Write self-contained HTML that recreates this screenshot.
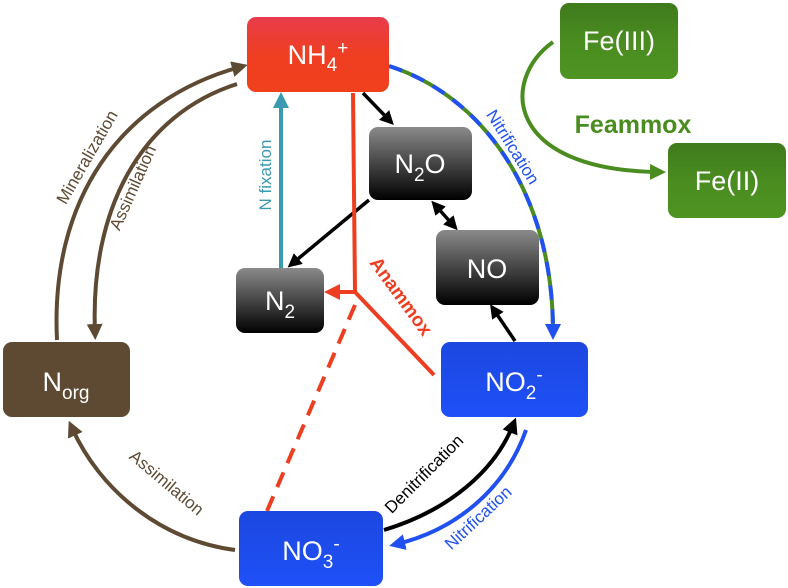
<!DOCTYPE html>
<html><head><meta charset="utf-8"><style>
html,body{margin:0;padding:0;background:#fff;}
svg{display:block;font-family:"Liberation Sans",sans-serif;}
</style></head><body>
<svg width="788" height="588" viewBox="0 0 788 588" xmlns="http://www.w3.org/2000/svg">
<defs>
<linearGradient id="red" x1="0" y1="0" x2="0" y2="1"><stop offset="0" stop-color="#e83c4c"/><stop offset="0.5" stop-color="#ef3e22"/><stop offset="1" stop-color="#f0401c"/></linearGradient>
<linearGradient id="blk" x1="0" y1="0" x2="0" y2="1"><stop offset="0" stop-color="#8a8a8a"/><stop offset="1" stop-color="#000"/></linearGradient>
<linearGradient id="blu" x1="0" y1="0" x2="0" y2="1"><stop offset="0" stop-color="#1c48e0"/><stop offset="1" stop-color="#1f50f8"/></linearGradient>
<linearGradient id="grn" x1="0" y1="0" x2="0" y2="1"><stop offset="0" stop-color="#3f7a1c"/><stop offset="0.5" stop-color="#4a8c20"/><stop offset="1" stop-color="#4e9422"/></linearGradient>
<marker id="aBr" markerWidth="4" markerHeight="4" refX="2" refY="2" orient="auto" markerUnits="strokeWidth"><path d="M0,0 L4,2 L0,4 Z" fill="#5e4a33"/></marker>
<marker id="aBk" markerWidth="4" markerHeight="4" refX="2" refY="2" orient="auto" markerUnits="strokeWidth"><path d="M0,0 L4,2 L0,4 Z" fill="#000"/></marker>
<marker id="aBkS" markerWidth="4" markerHeight="4" refX="2" refY="2" orient="auto-start-reverse" markerUnits="strokeWidth"><path d="M0,0 L4,2 L0,4 Z" fill="#000"/></marker>
<marker id="aBl" markerWidth="4" markerHeight="4" refX="2" refY="2" orient="auto" markerUnits="strokeWidth"><path d="M0,0 L4,2 L0,4 Z" fill="#2050f0"/></marker>
<marker id="aTl" markerWidth="4" markerHeight="4" refX="2" refY="2" orient="auto" markerUnits="strokeWidth"><path d="M0,0 L4,2 L0,4 Z" fill="#3a9ab0"/></marker>
<marker id="aRd" markerWidth="4" markerHeight="4" refX="2" refY="2" orient="auto" markerUnits="strokeWidth"><path d="M0,0 L4,2 L0,4 Z" fill="#ee3e22"/></marker>
<marker id="aGr" markerWidth="4" markerHeight="4" refX="2" refY="2" orient="auto" markerUnits="strokeWidth"><path d="M0,0 L4,2 L0,4 Z" fill="#4a8c20"/></marker>
</defs>

<path d="M57,340 C50,200 120,100 240,67" stroke="#5e4a33" stroke-width="4" fill="none" marker-end="url(#aBr)"/>
<path d="M237,84 C140,115 90,210 95,332" stroke="#5e4a33" stroke-width="4" fill="none" marker-end="url(#aBr)"/>
<path d="M235,550 C160,540 100,490 72,428" stroke="#5e4a33" stroke-width="4" fill="none" marker-end="url(#aBr)"/>

<path d="M281,268 L281,100" stroke="#3a9ab0" stroke-width="4" fill="none" marker-end="url(#aTl)"/>

<path d="M363,93 L389,120" stroke="#000" stroke-width="3.5" fill="none" marker-end="url(#aBk)"/>
<path d="M369,200 L293,263" stroke="#000" stroke-width="3.5" fill="none" marker-end="url(#aBk)"/>
<path d="M436,206 L453,225" stroke="#000" stroke-width="3.5" fill="none" marker-start="url(#aBkS)" marker-end="url(#aBk)"/>
<path d="M515,341 L494,310" stroke="#000" stroke-width="3.5" fill="none" marker-end="url(#aBk)"/>
<path d="M384,530 C450,510 495,470 513,425" stroke="#000" stroke-width="4" fill="none" marker-end="url(#aBk)"/>
<path d="M526,430 C505,490 455,530 397,544" stroke="#2050f0" stroke-width="4" fill="none" marker-end="url(#aBl)"/>

<path d="M353,93 L355,292" stroke="#ee3e22" stroke-width="4" fill="none"/>
<path d="M355,292 L332,292" stroke="#ee3e22" stroke-width="4" fill="none" marker-end="url(#aRd)"/>
<path d="M355,292 L434,375" stroke="#ee3e22" stroke-width="4" fill="none"/>
<path d="M355,305 L267,511" stroke="#ee3e22" stroke-width="4" fill="none" stroke-dasharray="16,10"/>

<path d="M389,66 C480,95 553,190 553,332" stroke="#4a8c20" stroke-width="4" fill="none"/>
<path d="M389,66 C480,95 553,190 553,332" stroke="#2050f0" stroke-width="4" fill="none" stroke-dasharray="14,10" marker-end="url(#aBl)"/>

<path d="M553,42 C500,80 505,170 658,172" stroke="#4a8c20" stroke-width="4" fill="none" marker-end="url(#aGr)"/>

<rect x="247" y="17" width="142" height="75" rx="9" fill="url(#red)"/>
<rect x="369" y="127" width="103" height="73" rx="9" fill="url(#blk)"/>
<rect x="436" y="230" width="103" height="75" rx="9" fill="url(#blk)"/>
<rect x="236" y="268" width="88" height="65" rx="9" fill="url(#blk)"/>
<rect x="3" y="342" width="127" height="75" rx="9" fill="#5e4a33"/>
<rect x="441" y="342" width="147" height="75" rx="9" fill="url(#blu)"/>
<rect x="239" y="511" width="144" height="75" rx="9" fill="url(#blu)"/>
<rect x="560" y="3" width="118" height="76" rx="9" fill="url(#grn)"/>
<rect x="668" y="143" width="118" height="75" rx="9" fill="url(#grn)"/>

<g fill="#fff" font-size="27" text-anchor="middle">
<text x="318" y="64">NH<tspan font-size="19" dy="7">4</tspan><tspan font-size="19" dy="-17">+</tspan></text>
<text x="420" y="173">N<tspan font-size="19" dy="8">2</tspan><tspan dy="-8">O</tspan></text>
<text x="487" y="278">NO</text>
<text x="280" y="310">N<tspan font-size="19" dy="8">2</tspan></text>
<text x="66" y="391">N<tspan font-size="19" dy="8">org</tspan></text>
<text x="514" y="391">NO<tspan font-size="19" dy="8">2</tspan><tspan font-size="19" dy="-18">-</tspan></text>
<text x="311" y="560">NO<tspan font-size="19" dy="8">3</tspan><tspan font-size="19" dy="-18">-</tspan></text>
<text x="619" y="50">Fe(III)</text>
<text x="727" y="190">Fe(II)</text>
</g>

<text x="633" y="133" font-size="25" font-weight="bold" fill="#4a8c20" text-anchor="middle">Feammox</text>

<g font-size="17" text-anchor="middle">
<text transform="translate(92,160) rotate(-60)" fill="#5e4a33">Mineralization</text>
<text transform="translate(138,190) rotate(-66)" fill="#5e4a33">Assimilation</text>
<text transform="translate(271,175) rotate(-90)" fill="#3a9ab0">N fixation</text>
<text transform="translate(508,150) rotate(58)" fill="#2050f0">Nitrification</text>
<text transform="translate(163,487) rotate(40)" fill="#5e4a33">Assimilation</text>
<text transform="translate(428,478) rotate(-45)" fill="#000">Denitrification</text>
<text transform="translate(482,522) rotate(-43)" fill="#2050f0">Nitrification</text>
<text transform="translate(396,300) rotate(54)" fill="#ee3e22" font-size="19" font-weight="bold">Anammox</text>
</g>
</svg>
</body></html>
